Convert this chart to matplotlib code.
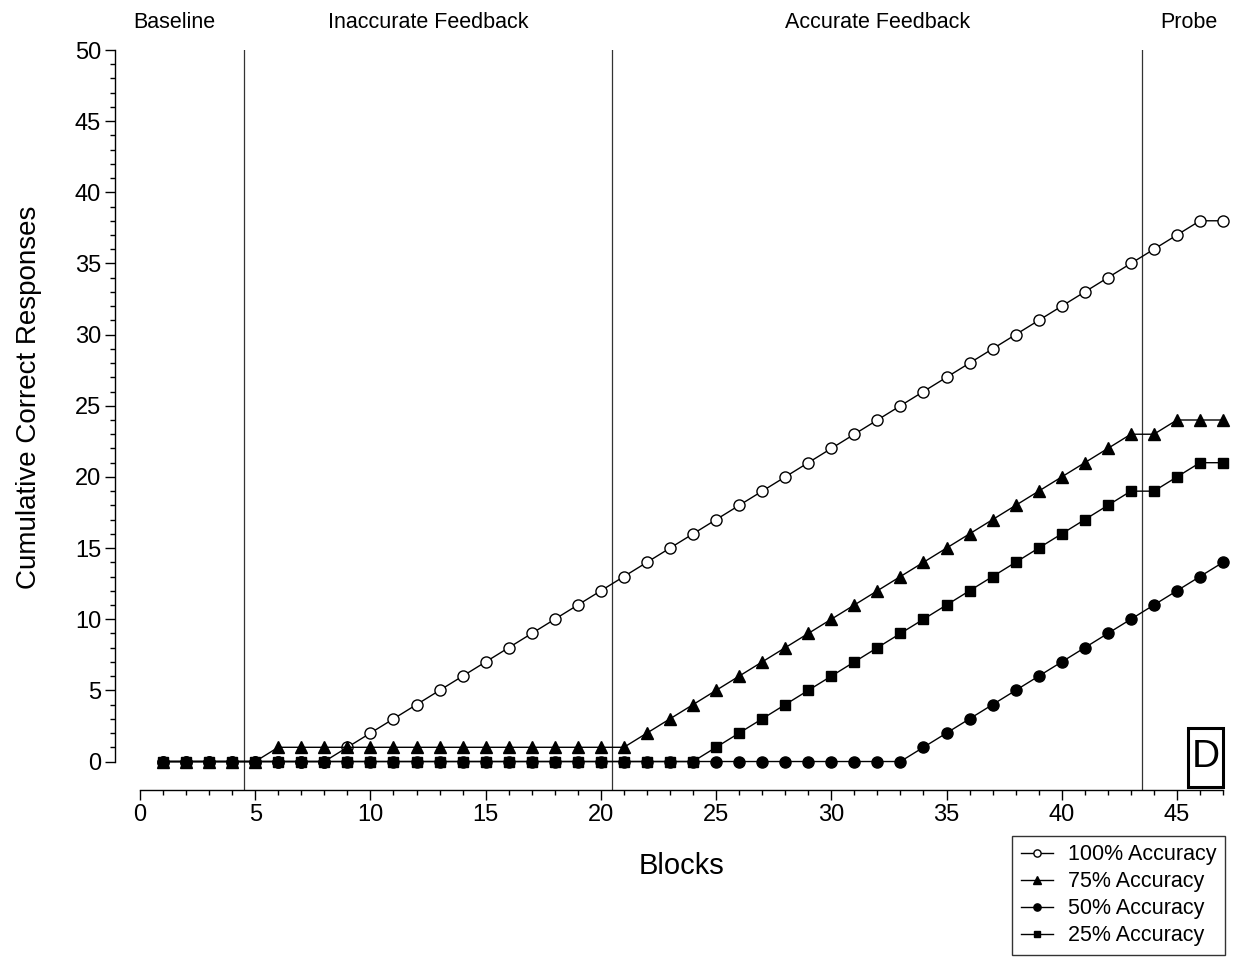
import matplotlib
matplotlib.use("Agg")
import matplotlib.pyplot as plt
from matplotlib.patches import Rectangle
from matplotlib.ticker import MultipleLocator, FixedLocator

plt.rcParams["font.family"] = ["Liberation Sans", "DejaVu Sans"]

# -------- Data --------
blocks = list(range(1, 48))
acc_100 = [0] * 8 + list(range(1, 38)) + [38, 38]
acc_75 = [0] * 5 + [1] * 16 + list(range(2, 24)) + [23, 24, 24, 24]
acc_50 = [0] * 33 + list(range(1, 15))
acc_25 = [0] * 24 + list(range(1, 20)) + [19, 20, 21, 21]

phase_breaks = [4.5, 20.5, 43.5]
phase_names = ["Baseline", "Inaccurate Feedback", "Accurate Feedback", "Probe"]
phase_centers = [1.5, 12.5, 32.0, 45.5]

# -------- Figure --------
fig = plt.figure(figsize=(12.38, 9.6), dpi=100)
ax = fig.add_axes([0.1131, 0.1771, 0.8748, 0.7708])

for xb in phase_breaks:
    ax.axvline(xb, color="0.2", lw=0.9, zorder=1)

line_kw = dict(color="black", lw=1.0, clip_on=False)
ax.plot(blocks, acc_100, marker="o", mfc="white", mec="black", ms=8,
        mew=1.0, label="100% Accuracy", zorder=3, **line_kw)
ax.plot(blocks, acc_75, marker="^", ms=8, label="75% Accuracy", zorder=3,
        **line_kw)
ax.plot(blocks, acc_50, marker="o", ms=8, label="50% Accuracy", zorder=3,
        **line_kw)
ax.plot(blocks, acc_25, marker="s", ms=7.5, label="25% Accuracy", zorder=4,
        **line_kw)

ax.set_xlim(0, 47)
ax.set_ylim(-2, 50)

# -------- Axes styling --------
ax.spines["top"].set_visible(False)
ax.spines["right"].set_visible(False)
ax.spines["left"].set_position(("outward", 18))
ax.spines["left"].set_bounds(0, 50)
ax.spines["bottom"].set_bounds(0, 47)
for s in ["left", "bottom"]:
    ax.spines[s].set_linewidth(1.0)

ax.xaxis.set_major_locator(MultipleLocator(5))
ax.xaxis.set_minor_locator(FixedLocator(range(0, 48)))
ax.yaxis.set_major_locator(FixedLocator(range(0, 51, 5)))
ax.yaxis.set_minor_locator(FixedLocator(range(0, 51)))
ax.tick_params(which="major", direction="out", length=7, width=1.0,
               labelsize=17, pad=3)
ax.tick_params(which="minor", direction="out", length=3.5, width=1.0)

ax.set_xlabel("Blocks", fontsize=21, labelpad=19)
ax.set_ylabel("Cumulative Correct Responses", fontsize=20)
ax.yaxis.set_label_coords(-0.0905, 0.531)

# -------- Phase labels --------
for name, xc in zip(phase_names, phase_centers):
    ax.text(xc, 51.95, name, ha="center", va="center", fontsize=15.5,
            clip_on=False)

# panel letter in a box
ax.add_patch(Rectangle((45.5, -1.76), 1.5, 4.15, fill=False, ec="black",
                       lw=2.2, clip_on=False, zorder=5))
ax.text(46.25, 0.3, "D", ha="center", va="center", fontsize=28, zorder=5)

# -------- Legend --------
leg = fig.legend(loc="lower right", bbox_to_anchor=(0.9895, 0.0052),
                 borderaxespad=0, fontsize=15.5, frameon=True, fancybox=False,
                 handlelength=1.5, handletextpad=0.7, labelspacing=0.28,
                 borderpad=0.4, markerscale=0.65)
leg.get_frame().set_edgecolor("black")
leg.get_frame().set_linewidth(1.0)

plt.savefig("out.png", dpi=100)
plt.close()
